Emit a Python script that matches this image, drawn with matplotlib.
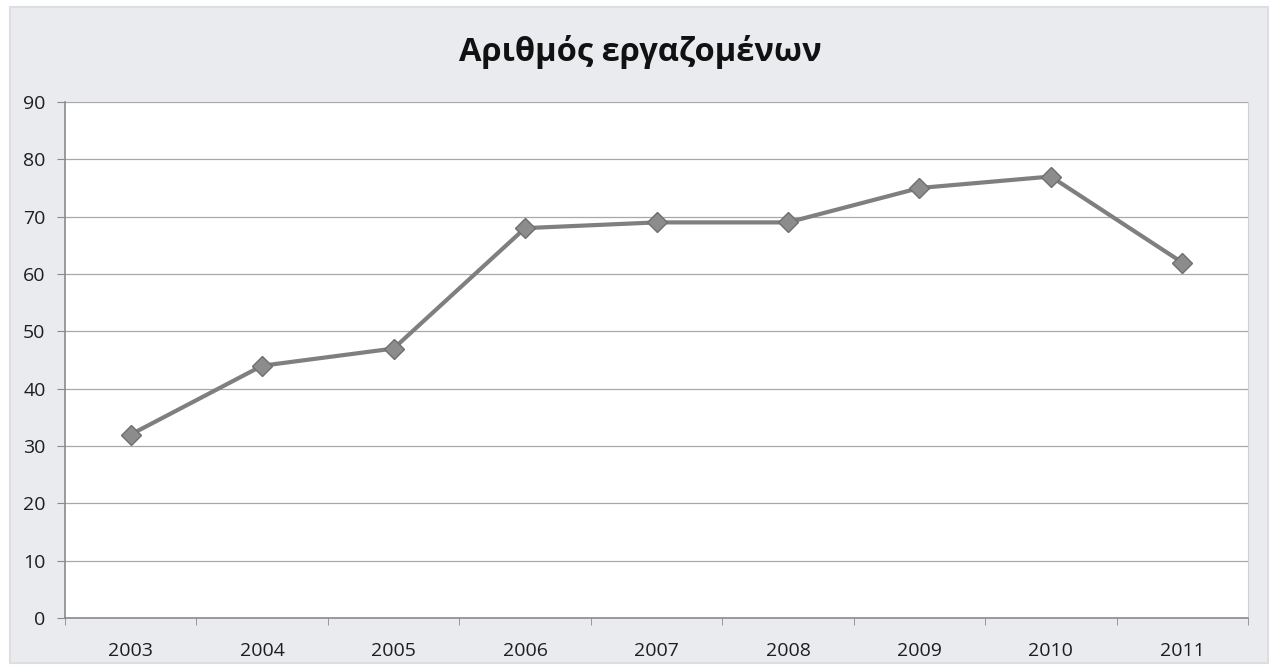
import matplotlib.pyplot as plt
from matplotlib.patches import Rectangle

years = ['2003', '2004', '2005', '2006', '2007', '2008', '2009', '2010', '2011']
employees = [32, 44, 47, 68, 69, 69, 75, 77, 62]

plt.rcParams['font.family'] = ['Open Sans', 'DejaVu Sans']

fig = plt.figure(figsize=(12.8, 6.7), dpi=100, facecolor='white')
# chart area background, kept behind the axes
fig.patches.append(Rectangle((10 / 1280, 7 / 670), 1258 / 1280, 656 / 670,
                             transform=fig.transFigure, facecolor='#e9ebef',
                             edgecolor='#dcdee2', linewidth=1.5, zorder=-5))

ax = fig.add_axes([65 / 1280, 52 / 670, 1183 / 1280, 516 / 670])
ax.set_facecolor('white')

x = range(len(years))
ax.plot(x, employees, color='#7f7f7f', linewidth=3, marker='D', markersize=10,
        markerfacecolor='#8c8c8c', markeredgecolor='#6f6f6f', zorder=3)

ax.set_xlim(-0.5, len(years) - 0.5)
ax.set_ylim(0, 90)
ax.set_yticks(range(0, 91, 10))
ax.set_xticks(list(x))
ax.set_xticklabels(years)
ax.set_xticks([i - 0.5 for i in range(len(years) + 1)], minor=True)

ax.grid(axis='y', color='#a8a8a8', linewidth=0.9)
ax.set_axisbelow(True)
ax.spines['top'].set_visible(False)
ax.spines['right'].set_color('#d0d0d0')
for side in ['left', 'bottom']:
    ax.spines[side].set_color('#8a8a8a')
    ax.spines[side].set_linewidth(1.2)

ax.tick_params(axis='x', which='major', length=0, pad=17, labelsize=14, labelcolor='#1e1e1e')
ax.tick_params(axis='x', which='minor', length=5, color='#8a8a8a', direction='out')
ax.tick_params(axis='y', length=6, color='#8a8a8a', pad=8, labelsize=14, labelcolor='#1e1e1e')

fig.text(0.5, 0.922, 'Αριθμός εργαζομένων', ha='center', va='center',
         fontsize=23.5, fontweight='bold', color='#111111')

fig.savefig('out.png', dpi=100, facecolor=fig.get_facecolor())
